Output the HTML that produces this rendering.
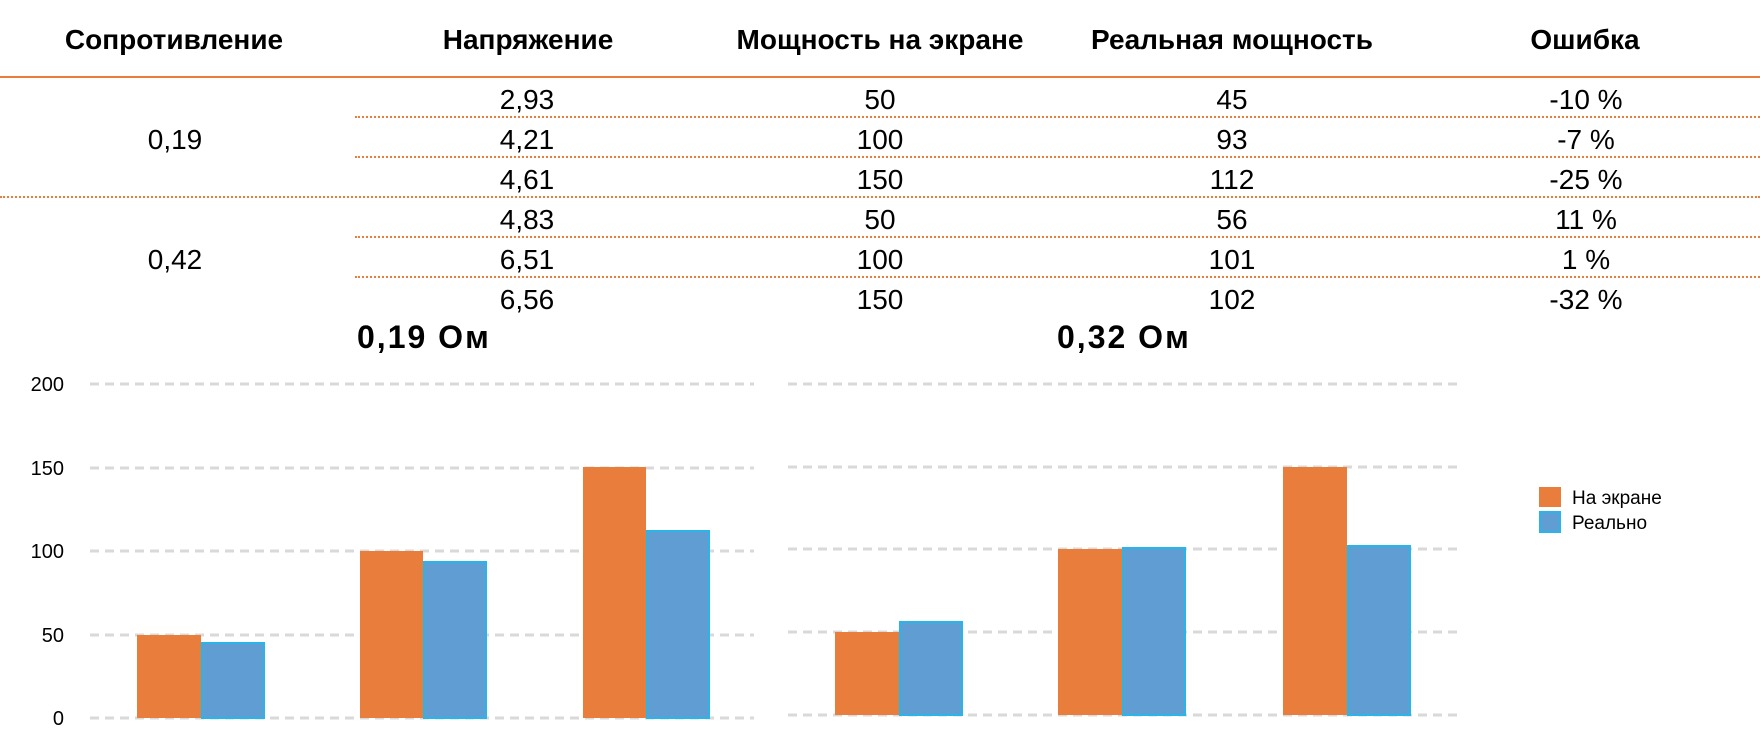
<!DOCTYPE html>
<html><head><meta charset="utf-8">
<style>
html,body{margin:0;padding:0;background:#fff;}
body{width:1760px;height:754px;position:relative;overflow:hidden;font-family:"Liberation Sans","DejaVu Sans",sans-serif;color:#000;}
.h{position:absolute;top:22px;font-weight:bold;font-size:28px;transform:translateX(-50%);white-space:nowrap;line-height:36px;}
.d{position:absolute;font-size:28px;transform:translateX(-50%);white-space:nowrap;line-height:32px;}
.ln{position:absolute;height:0;border-top:2px dotted #E97D3C;}
.t{position:absolute;font-weight:bold;font-size:32px;letter-spacing:2px;white-space:nowrap;line-height:36px;}
</style></head><body>
<div class="h" style="left:174px">Сопротивление</div>
<div class="h" style="left:528px">Напряжение</div>
<div class="h" style="left:880px">Мощность на экране</div>
<div class="h" style="left:1232px">Реальная мощность</div>
<div class="h" style="left:1585px">Ошибка</div>
<div style="position:absolute;left:0;top:76px;width:1760px;height:2px;background:#E97D3C"></div>

<div class="ln" style="left:355px;width:1405px;top:116px"></div>
<div class="ln" style="left:355px;width:1405px;top:156px"></div>
<div class="ln" style="left:0;width:1760px;top:196px"></div>
<div class="ln" style="left:355px;width:1405px;top:236px"></div>
<div class="ln" style="left:355px;width:1405px;top:276px"></div>

<div class="d" style="left:175px;top:124px">0,19</div>
<div class="d" style="left:175px;top:244px">0,42</div>

<div class="d" style="left:527px;top:84px">2,93</div>
<div class="d" style="left:527px;top:124px">4,21</div>
<div class="d" style="left:527px;top:164px">4,61</div>
<div class="d" style="left:527px;top:204px">4,83</div>
<div class="d" style="left:527px;top:244px">6,51</div>
<div class="d" style="left:527px;top:284px">6,56</div>

<div class="d" style="left:880px;top:84px">50</div>
<div class="d" style="left:880px;top:124px">100</div>
<div class="d" style="left:880px;top:164px">150</div>
<div class="d" style="left:880px;top:204px">50</div>
<div class="d" style="left:880px;top:244px">100</div>
<div class="d" style="left:880px;top:284px">150</div>

<div class="d" style="left:1232px;top:84px">45</div>
<div class="d" style="left:1232px;top:124px">93</div>
<div class="d" style="left:1232px;top:164px">112</div>
<div class="d" style="left:1232px;top:204px">56</div>
<div class="d" style="left:1232px;top:244px">101</div>
<div class="d" style="left:1232px;top:284px">102</div>

<div class="d" style="left:1586px;top:84px">-10 %</div>
<div class="d" style="left:1586px;top:124px">-7 %</div>
<div class="d" style="left:1586px;top:164px">-25 %</div>
<div class="d" style="left:1586px;top:204px">11 %</div>
<div class="d" style="left:1586px;top:244px">1 %</div>
<div class="d" style="left:1586px;top:284px">-32 %</div>

<div class="t" style="left:357px;top:319px">0,19 Ом</div>
<div class="t" style="left:1057px;top:319px">0,32 Ом</div>

<svg width="1760" height="754" style="position:absolute;left:0;top:0" xmlns="http://www.w3.org/2000/svg">
<g stroke="#D9D9D9" stroke-width="3" stroke-dasharray="9,6">
<line x1="90" x2="754" y1="384" y2="384"/>
<line x1="90" x2="754" y1="468" y2="468"/>
<line x1="90" x2="754" y1="551" y2="551"/>
<line x1="90" x2="754" y1="635" y2="635"/>
<line x1="90" x2="754" y1="718" y2="718"/>
<line x1="788" x2="1459" y1="384" y2="384"/>
<line x1="788" x2="1459" y1="467" y2="467"/>
<line x1="788" x2="1459" y1="549" y2="549"/>
<line x1="788" x2="1459" y1="632" y2="632"/>
<line x1="788" x2="1459" y1="715" y2="715"/>
</g>
<g font-family="Liberation Sans, sans-serif" font-size="20" text-anchor="end" fill="#000">
<text x="64" y="391">200</text>
<text x="64" y="475">150</text>
<text x="64" y="558">100</text>
<text x="64" y="642">50</text>
<text x="64" y="725">0</text>
</g>
<g fill="#E97D3C">
<rect x="137" y="635" width="64" height="83"/>
<rect x="360" y="551" width="63" height="167"/>
<rect x="583" y="467" width="63" height="251"/>
<rect x="835" y="632" width="64" height="83"/>
<rect x="1058" y="549" width="64" height="166"/>
<rect x="1283" y="467" width="64" height="248"/>
</g>
<g fill="#5F9DD3" stroke="#29B5E8" stroke-width="2">
<rect x="202" y="643" width="62" height="75"/>
<rect x="424" y="562" width="62" height="156"/>
<rect x="647" y="531" width="62" height="187"/>
<rect x="900" y="622" width="62" height="93"/>
<rect x="1123" y="548" width="62" height="167"/>
<rect x="1348" y="546" width="62" height="169"/>
</g>
<rect x="1539" y="487" width="22" height="20" fill="#E97D3C"/>
<rect x="1540" y="512" width="20" height="20" fill="#5F9DD3" stroke="#29B5E8" stroke-width="2"/>
<g font-family="Liberation Sans, sans-serif" font-size="19" fill="#000">
<text x="1572" y="504">На экране</text>
<text x="1572" y="529">Реально</text>
</g>
</svg>
</body></html>
